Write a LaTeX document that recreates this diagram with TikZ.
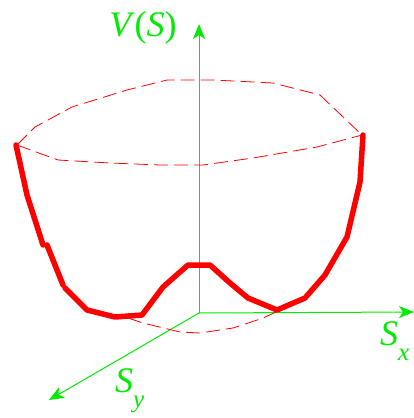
\documentclass[tikz,border=0pt]{standalone}
\usepackage{fontspec}
\setmainfont{Liberation Serif}
\usetikzlibrary{arrows.meta}
\definecolor{axgreen}{RGB}{0,235,0}
\definecolor{potred}{RGB}{255,0,0}
\newcommand{\sublab}[2]{\textit{#1}\raisebox{-0.42em}{\fontsize{25}{30}\selectfont\textit{#2}}}
\tikzset{
  axis/.style  = {-{Stealth[length=15pt,width=12pt,inset=4pt]}, axgreen, line width=1pt},
  lab/.style   = {text=axgreen, inner sep=0pt, font=\fontsize{36}{42}\selectfont},
  rim/.style   = {potred, line width=0.8pt, dash pattern=on 14pt off 6pt},
  pot/.style   = {potred, line width=5.5pt, line join=round, line cap=round},
}
\begin{document}
\begin{tikzpicture}[x=1pt,y=-1pt]
  \useasboundingbox (0,0) rectangle (414,418);
  % axes
  \coordinate (o) at (199,313);
  \coordinate (vtop) at (199,24);
  \coordinate (xend) at (414,312);
  \coordinate (yend) at (49,400);
  \draw[axis] (o) -- (vtop);
  \draw[axis] (o) -- (xend);
  \draw[axis] (o) -- (yend);
  \node[lab] (vs) at (143,28) {\textit{V}(\textit{S})};
  \node[lab, anchor=north west] (sx) at (380,321) {\sublab{S}{x}};
  \node[lab, anchor=north west] (sy) at (115,368) {\sublab{S}{y}};
  % rim of the bowl
  \draw[rim] (17,145) -- (35,127) -- (72,107) -- (127,90) -- (167,80) -- (213,80)
    -- (273,83) -- (320,95) -- (362,135);
  \draw[rim] (17,145) -- (58,160) -- (110,163) -- (160,165) -- (203,165) -- (253,158)
    -- (317,147) -- (362,135);
  % bottom ring
  \draw[rim] (128,318) -- (143,323) -- (180,332) -- (200,333) -- (233,328) -- (263,318)
    -- (276,312);
  % potential
  \draw[pot] (16,145) -- (27,195) -- (43,245);
  \draw[pot] (47,245) -- (63,285);
  \draw[pot] (65,288) -- (87,310) -- (115,317) -- (142,315) -- (163,287) -- (188,265)
    -- (210,265) -- (230,283) -- (248,298) -- (277,310) -- (305,298) -- (325,275)
    -- (347,237) -- (360,182) -- (363,135);
\end{tikzpicture}
\end{document}
